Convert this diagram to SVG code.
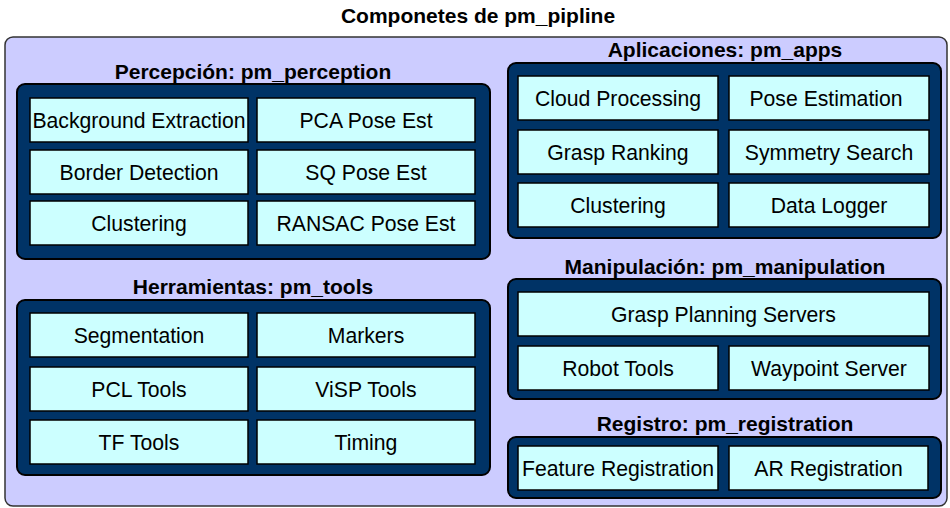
<svg xmlns="http://www.w3.org/2000/svg" width="950" height="508" viewBox="0 0 950 508">
<style>
text{font-family:"Liberation Sans",Arial,sans-serif;fill:#000}
.title{font-size:21px;font-weight:bold;text-anchor:middle}
.lbl{font-size:21px;font-weight:bold;text-anchor:middle}
.c{font-size:21.2px;text-anchor:middle}
.outer{fill:#ccccff;stroke:#333;stroke-width:1.5}
.grp{fill:#003366;stroke:#000;stroke-width:2}
.cell{fill:#ccffff;stroke:#000;stroke-width:1.5}
</style>
<rect width="950" height="508" fill="#fff"/>
<text class="title" x="478" y="23">Componetes de pm_pipline</text>
<g id="pm_pipline">
<rect class="outer" x="5" y="37" width="942" height="469" rx="8"/>
</g>
<g id="pm_perception">
<text class="lbl" x="253" y="79">Percepción: pm_perception</text>
<rect class="grp" x="17" y="84" width="473" height="175" rx="8"/>
<g id="background_extraction"><rect class="cell" x="30" y="98" width="218" height="44"/><text class="c" x="139" y="128">Background Extraction</text></g>
<g id="pca_pose_est"><rect class="cell" x="257" y="98" width="218" height="44"/><text class="c" x="366" y="128">PCA Pose Est</text></g>
<g id="border_detection"><rect class="cell" x="30" y="150" width="218" height="44"/><text class="c" x="139" y="180">Border Detection</text></g>
<g id="sq_pose_est"><rect class="cell" x="257" y="150" width="218" height="44"/><text class="c" x="366" y="180">SQ Pose Est</text></g>
<g id="clustering_perc"><rect class="cell" x="30" y="201" width="218" height="44"/><text class="c" x="139" y="231">Clustering</text></g>
<g id="ransac_pose_est"><rect class="cell" x="257" y="201" width="218" height="44"/><text class="c" x="366" y="231">RANSAC Pose Est</text></g>
</g>
<g id="pm_tools">
<text class="lbl" x="253" y="294">Herramientas: pm_tools</text>
<rect class="grp" x="17" y="300" width="473" height="175" rx="8"/>
<g id="segmentation"><rect class="cell" x="30" y="313" width="218" height="44"/><text class="c" x="139" y="343">Segmentation</text></g>
<g id="markers"><rect class="cell" x="257" y="313" width="218" height="44"/><text class="c" x="366" y="343">Markers</text></g>
<g id="pcl_tools"><rect class="cell" x="30" y="367" width="218" height="44"/><text class="c" x="139" y="397">PCL Tools</text></g>
<g id="visp_tools"><rect class="cell" x="257" y="367" width="218" height="44"/><text class="c" x="366" y="397">ViSP Tools</text></g>
<g id="tf_tools"><rect class="cell" x="30" y="420" width="218" height="44"/><text class="c" x="139" y="450">TF Tools</text></g>
<g id="timing"><rect class="cell" x="257" y="420" width="218" height="44"/><text class="c" x="366" y="450">Timing</text></g>
</g>
<g id="pm_apps">
<text class="lbl" x="725" y="57">Aplicaciones: pm_apps</text>
<rect class="grp" x="508" y="63" width="433" height="175" rx="8"/>
<g id="cloud_processing"><rect class="cell" x="518" y="76" width="200" height="44"/><text class="c" x="618" y="106">Cloud Processing</text></g>
<g id="pose_estimation"><rect class="cell" x="729" y="76" width="200" height="44"/><text class="c" x="826" y="106">Pose Estimation</text></g>
<g id="grasp_ranking"><rect class="cell" x="518" y="130" width="200" height="44"/><text class="c" x="618" y="160">Grasp Ranking</text></g>
<g id="symmetry_search"><rect class="cell" x="729" y="130" width="200" height="44"/><text class="c" x="829" y="160">Symmetry Search</text></g>
<g id="clustering_apps"><rect class="cell" x="518" y="183" width="200" height="44"/><text class="c" x="618" y="213">Clustering</text></g>
<g id="data_logger"><rect class="cell" x="729" y="183" width="200" height="44"/><text class="c" x="829" y="213">Data Logger</text></g>
</g>
<g id="pm_manipulation">
<text class="lbl" x="725" y="274">Manipulación: pm_manipulation</text>
<rect class="grp" x="508" y="279" width="433" height="120" rx="8"/>
<g id="grasp_planning_servers"><rect class="cell" x="518" y="292" width="411" height="44"/><text class="c" x="723.5" y="322">Grasp Planning Servers</text></g>
<g id="robot_tools"><rect class="cell" x="518" y="346" width="200" height="44"/><text class="c" x="618" y="376">Robot Tools</text></g>
<g id="waypoint_server"><rect class="cell" x="729" y="346" width="200" height="44"/><text class="c" x="829" y="376">Waypoint Server</text></g>
</g>
<g id="pm_registration">
<text class="lbl" x="725" y="431">Registro: pm_registration</text>
<rect class="grp" x="508" y="437" width="433" height="61" rx="8"/>
<g id="feature_registration"><rect class="cell" x="518" y="446" width="200" height="44"/><text class="c" x="618" y="476">Feature Registration</text></g>
<g id="ar_registration"><rect class="cell" x="729" y="446" width="199" height="44"/><text class="c" x="828.5" y="476">AR Registration</text></g>
</g>
<g id="connectors"></g>
</svg>
